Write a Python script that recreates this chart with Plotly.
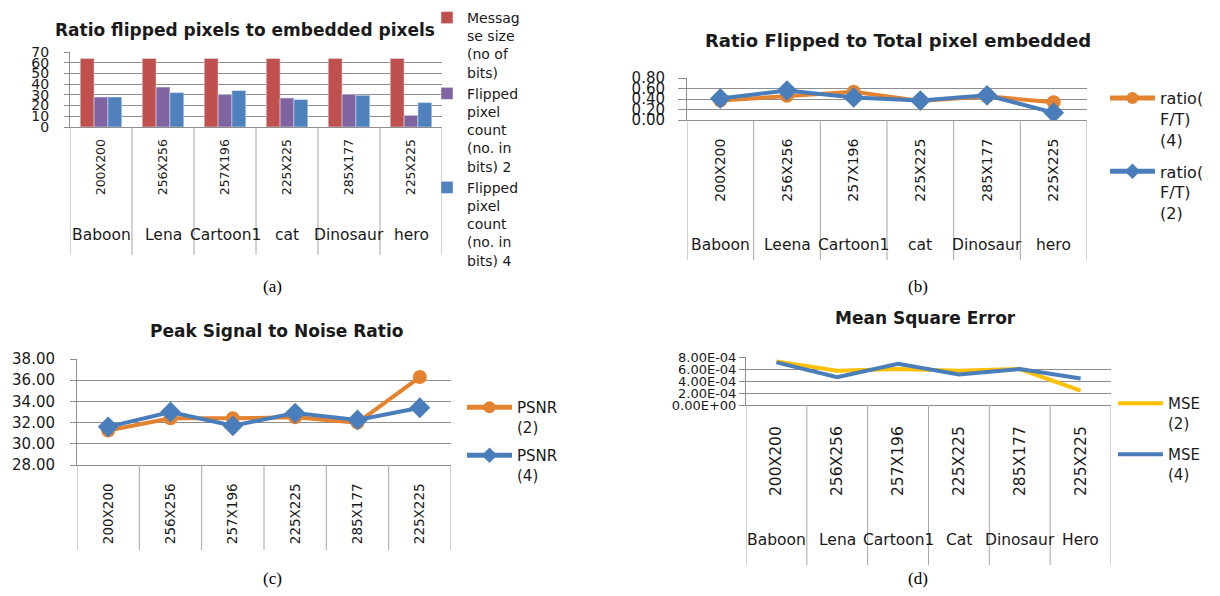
import plotly.graph_objects as go

W, H = 1220, 596

# ---------------- data ----------------
sizes = ["200X200", "256X256", "257X196", "225X225", "285X177", "225X225"]
names_a = ["Baboon", "Lena", "Cartoon1", "cat", "Dinosaur", "hero"]
names_b = ["Baboon", "Leena", "Cartoon1", "cat", "Dinosaur", "hero"]
names_d = ["Baboon", "Lena", "Cartoon1", "Cat", "Dinosaur", "Hero"]

msg_size = [64, 64, 64, 64, 64, 64]
flipped_2 = [28.0, 37.3, 30.2, 27.1, 30.5, 10.9]
flipped_4 = [28.0, 32.1, 34.0, 25.6, 29.6, 22.8]

ratio_4 = [0.37, 0.46, 0.54, 0.36, 0.45, 0.34]
ratio_2 = [0.41, 0.56, 0.43, 0.37, 0.47, 0.14]

psnr_2 = [31.25, 32.4, 32.4, 32.5, 32.0, 36.3]
psnr_4 = [31.6, 33.0, 31.7, 32.9, 32.25, 33.4]

mse_2 = [7.27e-4, 5.7e-4, 6.0e-4, 5.7e-4, 6.0e-4, 2.4e-4]
mse_4 = [7.1e-4, 4.65e-4, 6.88e-4, 5.1e-4, 6.0e-4, 4.4e-4]

legend_a = ["Messag<br>se size<br>(no of<br>bits)",
            "Flipped<br>pixel<br>count<br>(no. in<br>bits) 2",
            "Flipped<br>pixel<br>count<br>(no. in<br>bits) 4"]
legend_b = ["ratio(<br>F/T)<br>(4)", "ratio(<br>F/T)<br>(2)"]
legend_c = ["PSNR<br>(2)", "PSNR<br>(4)"]
legend_d = ["MSE<br>(2)", "MSE<br>(4)"]

titles = ["Ratio flipped pixels to embedded pixels",
          "Ratio Flipped to Total pixel embedded",
          "Peak Signal to Noise Ratio",
          "Mean Square Error"]
panel_labels = ["(a)", "(b)", "(c)", "(d)"]

mse_ticks = [0, 2e-4, 4e-4, 6e-4, 8e-4]
mse_ticktext = [f"{v:.2E}" for v in mse_ticks]

# ---------------- styling ----------------
RED, PURPLE, BLUE_BAR = "#C0504D", "#8064A2", "#4F81BD"
ORANGE, BLUE, YELLOW = "#E4832F", "#4A7EBB", "#FFC000"
GRID = "#8E8E8E"
FONT = "DejaVu Sans"
TXT = "#1a1a1a"


def px_x(v):
    return v / W


def px_y(v):
    return 1 - v / H


x_idx = list(range(len(sizes)))

fig = go.Figure()

# (a) bars
for vals, col, nm in zip([msg_size, flipped_2, flipped_4], [RED, PURPLE, BLUE_BAR], legend_a):
    fig.add_trace(go.Bar(x=x_idx, y=vals, marker_color=col, name=nm,
                         xaxis="x", yaxis="y", legend="legend", legendgroup=nm))

# (b) ratio lines
fig.add_trace(go.Scatter(x=x_idx, y=ratio_4, mode="lines+markers", name=legend_b[0],
                         line=dict(color=ORANGE, width=4),
                         marker=dict(symbol="circle", size=14, color=ORANGE),
                         xaxis="x2", yaxis="y2", legend="legend2", legendgroup="b1"))
fig.add_trace(go.Scatter(x=x_idx, y=ratio_2, mode="lines+markers", name=legend_b[1],
                         line=dict(color=BLUE, width=4),
                         marker=dict(symbol="diamond", size=16, color=BLUE),
                         xaxis="x2", yaxis="y2", legend="legend2", legendgroup="b2"))

# (c) PSNR
fig.add_trace(go.Scatter(x=x_idx, y=psnr_2, mode="lines+markers", name=legend_c[0],
                         line=dict(color=ORANGE, width=4),
                         marker=dict(symbol="circle", size=14, color=ORANGE),
                         xaxis="x3", yaxis="y3", legend="legend3", legendgroup="c1"))
fig.add_trace(go.Scatter(x=x_idx, y=psnr_4, mode="lines+markers", name=legend_c[1],
                         line=dict(color=BLUE, width=4),
                         marker=dict(symbol="diamond", size=16, color=BLUE),
                         xaxis="x3", yaxis="y3", legend="legend3", legendgroup="c2"))

# (d) MSE
fig.add_trace(go.Scatter(x=x_idx, y=mse_2, mode="lines", name=legend_d[0],
                         line=dict(color=YELLOW, width=4),
                         xaxis="x4", yaxis="y4", legend="legend4", legendgroup="d1"))
fig.add_trace(go.Scatter(x=x_idx, y=mse_4, mode="lines", name=legend_d[1],
                         line=dict(color=BLUE, width=4),
                         xaxis="x4", yaxis="y4", legend="legend4", legendgroup="d2"))

# panel geometry in pixels
panels = [
    dict(l=70, r=442, t=52, b=127, db=255, sf=12.5, so=6, names=names_a, ny=235),
    dict(l=687, r=1087, t=78, b=120, db=260, sf=14, so=12, names=names_b, ny=245),
    dict(l=77, r=451, t=359, b=465, db=550, sf=13.5, so=12, names=None, ny=None),
    dict(l=746, r=1111, t=357, b=405, db=565, sf=15.5, so=14, names=names_d, ny=540),
]

yaxes = [
    dict(range=[0, 70], dtick=10, tickfont=dict(size=14), ticklen=5, ticklabelstandoff=12),
    dict(range=[0, 0.8], dtick=0.2, tickformat=".2f", tickfont=dict(size=15), ticklen=8,
         ticklabelstandoff=10),
    dict(range=[28, 38], dtick=2, tickformat=".2f", tickfont=dict(size=15), ticklen=6,
         ticklabelstandoff=12),
    dict(range=[0, 8e-4], tickmode="array", tickvals=mse_ticks, ticktext=mse_ticktext,
         tickfont=dict(size=13), ticklen=6, ticklabelstandoff=0),
]

shapes = []
annotations = []
layout_axes = {}
for k, (p, ya) in enumerate(zip(panels, yaxes)):
    sfx = "" if k == 0 else str(k + 1)
    xd = [px_x(p["l"]), px_x(p["r"])]
    yd = [px_y(p["b"]), px_y(p["t"])]
    layout_axes["xaxis" + sfx] = dict(
        domain=xd, anchor="y" + sfx, range=[-0.5, len(sizes) - 0.5],
        tickmode="array", tickvals=x_idx, ticktext=sizes, tickangle=-90,
        tickfont=dict(family=FONT, size=p["sf"], color=TXT), ticks="",
        ticklabelstandoff=p["so"],
        showgrid=False, zeroline=False, showline=True, linecolor=GRID, linewidth=1,
        fixedrange=True)
    yax = dict(domain=yd, anchor="x" + sfx, showgrid=True, gridcolor=GRID, gridwidth=1,
               zeroline=False, showline=True, linecolor=GRID, linewidth=1,
               ticks="outside", tickcolor=GRID, fixedrange=True)
    yax.update(ya)
    yax["tickfont"] = dict(family=FONT, color=TXT, **ya["tickfont"])
    layout_axes["yaxis" + sfx] = yax
    # category dividers
    xref = "x" + sfx
    for i in range(len(sizes) + 1):
        shapes.append(dict(type="line", xref=xref, yref="paper", x0=i - 0.5, x1=i - 0.5,
                           y0=px_y(p["b"]), y1=px_y(p["db"]),
                           line=dict(color="#A6A6A6", width=1)))
    if p["names"]:
        for i, nm in enumerate(p["names"]):
            annotations.append(dict(x=i, xref=xref, y=px_y(p["ny"]), yref="paper",
                                    text=nm, showarrow=False, xanchor="center",
                                    yanchor="middle",
                                    font=dict(family=FONT, size=15.5, color=TXT)))

# titles
title_pos = [(245, 30, 17), (898, 40, 18), (276, 331, 17), (925, 318, 17)]
for t, (cx, cy, fs) in zip(titles, title_pos):
    annotations.append(dict(x=px_x(cx), y=px_y(cy), xref="paper", yref="paper",
                            text="<b>" + t + "</b>", showarrow=False,
                            xanchor="center", yanchor="middle",
                            font=dict(family=FONT, size=fs, color=TXT)))

# panel labels
label_pos = [(272, 287), (918, 287), (272, 578), (918, 578)]
for t, (cx, cy) in zip(panel_labels, label_pos):
    annotations.append(dict(x=px_x(cx), y=px_y(cy), xref="paper", yref="paper",
                            text=t, showarrow=False, xanchor="center", yanchor="middle",
                            font=dict(family="Liberation Serif", size=17, color="#000")))


def leg(x, y, size, gap, iw=30, const=False):
    d = dict(x=px_x(x), y=px_y(y), xanchor="left", yanchor="top",
             bgcolor="rgba(0,0,0,0)", borderwidth=0, valign="top",
             tracegroupgap=gap, traceorder="grouped", itemwidth=iw,
             font=dict(family=FONT, size=size, color=TXT))
    if const:
        d["itemsizing"] = "constant"
    return d


fig.update_layout(
    width=W, height=H, autosize=False,
    margin=dict(l=0, r=0, t=0, b=0, pad=0, autoexpand=False),
    paper_bgcolor="white", plot_bgcolor="white",
    barmode="group", bargap=0.33, bargroupgap=0,
    showlegend=True,
    legend=leg(427, 2, 14, 0),
    legend2=leg(1105, 81, 16, 8, iw=45, const=True),
    legend3=leg(462, 391, 15, 6, iw=45, const=True),
    legend4=leg(1113, 387, 15, 9, iw=45),
    shapes=shapes, annotations=annotations,
    **layout_axes,
)

fig.write_html("out.html")
